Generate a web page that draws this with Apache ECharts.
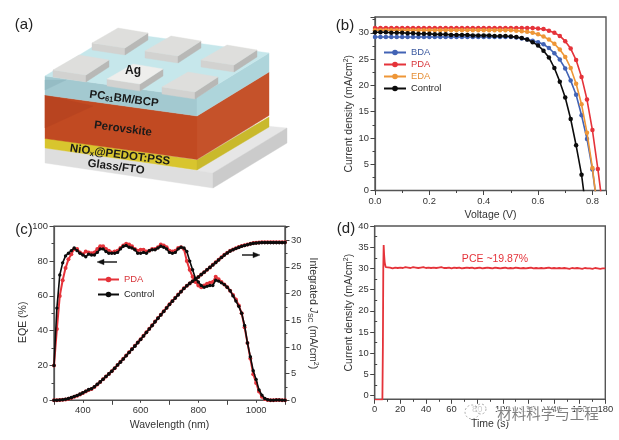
<!DOCTYPE html>
<html>
<head>
<meta charset="utf-8">
<style>html,body{margin:0;padding:0;background:#fff}#c{width:619px;height:440px;filter:blur(0.45px)}</style>
<script src="https://cdn.jsdelivr.net/npm/echarts@6/dist/echarts.min.js"></script>
</head>
<body>
<div id="c"></div>
<script>
// ---- panel (b) J-V, one value per 0.02 V from 0.00 V
const voltage = [0,.02,.04,.06,.08,.10,.12,.14,.16,.18,.20,.22,.24,.26,.28,.30,.32,.34,.36,.38,.40,.42,.44,.46,.48,.50,.52,.54,.56,.58,.60,.62,.64,.66,.68,.70,.72,.74,.76,.78,.80,.82,.84];
const bda = [29.2,29.2,29.2,29.2,29.2,29.2,29.2,29.2,29.2,29.2,29.2,29.2,29.2,29.2,29.2,29.2,29.2,29.2,29.2,29.2,29.2,29.2,29.2,29.2,29.2,29.2,29.1,28.9,28.7,28.5,28.2,27.8,27.1,26.1,24.9,23.2,20.9,18.2,14.3,9.8,4,-4];
const pda = [30.9,30.9,30.9,30.9,30.9,30.9,30.9,30.9,30.9,30.9,30.9,30.9,30.9,30.9,30.9,30.9,30.9,30.9,30.9,30.9,30.9,30.9,30.9,30.9,30.9,30.9,30.9,30.9,30.9,30.9,30.8,30.7,30.4,30,29.4,28.4,27,24.8,21.6,17.3,11.5,4.1,-4];
const eda = [30.5,30.5,30.5,30.5,30.5,30.5,30.5,30.5,30.5,30.5,30.5,30.5,30.5,30.5,30.5,30.5,30.5,30.5,30.5,30.5,30.5,30.5,30.5,30.5,30.5,30.5,30.4,30.3,30.2,30,29.7,29.3,28.7,27.9,26.8,25.4,23.3,20.3,16.4,11,4.3,-4];
const control = [30.1,30.1,30.1,30,30,30,29.9,29.9,29.8,29.8,29.8,29.7,29.7,29.7,29.6,29.6,29.6,29.6,29.5,29.5,29.5,29.5,29.4,29.4,29.4,29.3,29.2,29,28.7,28.2,27.6,26.6,25.3,23.3,20.7,17.7,13.6,8.6,3,-5];
// ---- panel (c) EQE and integrated Jsc, one value per 10 nm from 300 nm
const wavelength = [300,310,320,330,340,350,360,370,380,390,400,410,420,430,440,450,460,470,480,490,500,510,520,530,540,550,560,570,580,590,600,610,620,630,640,650,660,670,680,690,700,710,720,730,740,750,760,770,780,790,800,810,820,830,840,850,860,870,880,890,900,910,920,930,940,950,960,970,980,990,1000,1010,1020,1030,1040,1050,1060,1070,1080,1090,1100];
const eqeControl = [20,53,72,79,83,84.5,86,87.5,86,84.5,83.5,82.5,84,83.5,83.5,85,87,87,85.5,84.5,84.5,84.5,85,87,88.5,89,88,87.5,86.5,84.5,84.5,85,84.5,86,86.5,86.5,87.5,88.5,88,87,85,84.5,85,87,88,87.5,85.5,80,75,70,68,66,65,65.5,66,66,69,68.5,67.5,66.5,65,63,60,57,54,50,43,33,25,17,12,6,3,1,.3,0,0,.2,.2,0,0];
const eqePda = [20,41,60,69,76,81,84,87,87,85,84,85.5,85,84.5,85,87,88.5,88.5,87,86,85,85.5,86,87.5,89,90,89.5,88.5,87,86,86.5,86.5,85.5,86,87,87,88,89.5,89,88,86,85.5,86,87.5,88,87,80,75,71,68,66,65,66,67,67.5,68,71,69.5,68,66.5,65,63,60.5,58,54.5,50,42,33,24,15,10,5,2,.7,.2,0,0,.2,.2,0,0];
const jscControl = [0,.02,.05,.1,.2,.35,.5,.7,.9,1.15,1.4,1.7,2,2.15,2.55,3,3.45,3.95,4.45,4.95,5.45,6,6.6,7.15,7.75,8.35,8.95,9.55,10.15,10.8,11.4,12.05,12.7,13.35,14,14.7,15.35,16,16.65,17.3,17.95,18.55,19.15,19.75,20.35,20.95,21.45,21.9,22.3,22.7,23.1,23.55,24,24.45,24.9,25.35,25.8,26.3,26.75,27.2,27.6,27.95,28.2,28.45,28.65,28.85,29,29.15,29.3,29.4,29.45,29.5,29.55,29.55,29.55,29.55,29.55,29.55,29.55,29.55,29.55];
const jscPda = [0,.02,.04,.08,.16,.3,.45,.65,.85,1.1,1.35,1.65,1.95,2.1,2.5,2.95,3.45,3.95,4.45,4.95,5.45,6,6.6,7.2,7.8,8.4,9,9.6,10.2,10.85,11.45,12.1,12.75,13.4,14.05,14.75,15.4,16.05,16.7,17.35,18,18.6,19.2,19.8,20.4,21,21.45,21.9,22.3,22.7,23.1,23.55,24,24.45,24.9,25.4,25.85,26.35,26.8,27.25,27.65,28,28.25,28.5,28.7,28.9,29.05,29.2,29.35,29.45,29.5,29.55,29.6,29.6,29.6,29.6,29.6,29.6,29.6,29.6,29.6];
// ---- panel (d) stabilised output
const time = [0,2,4,6,6.4,6.7,7,7.4,7.8,8.2,8.6,9,10,12,14,16,18,20,22,24,26,28,30,32,34,36,38,40,42,44,46,48,50,52,54,56,58,60,62,64,66,68,70,72,74,76,78,80,82,84,86,88,90,92,94,96,98,100,102,104,106,108,110,112,114,116,118,120,122,124,126,128,130,132,134,136,138,140,142,144,146,148,150,152,154,156,158,160,162,164,166,168,170,172,174,176,178,180];
const current = [-1,-1,-1,-1,12,30,35.5,33,31.5,30.8,30.3,30,30.1,30.2,30,30.2,30.1,30.2,30.1,30.3,30.2,30.1,30.3,30.2,30.1,30.2,30.3,30.1,30.2,30.1,30.2,30.1,30.2,30.3,30.1,30.1,30.2,30,30.2,30.1,30.2,30,30.1,30.2,30.1,30.2,30,30.1,30.2,30,30.1,30.2,30.1,30,30.2,30.1,30,30.1,30.2,30,30.1,30,30.2,30.1,30,30.1,30,30.1,30.2,30,30.1,30,30.1,30,30.1,30.2,30,30.1,30,30.1,30,30.1,30,29.9,30.1,30,30.1,30,29.9,30.1,30,30,29.9,30.1,30,29.9,30,30];
const dYTicks = [0,5,10,15,20,25,30,35,40];
const dYMinor = [2.5,7.5,12.5,17.5,22.5,27.5,32.5,37.5];

const FONT = '"Liberation Sans", Arial, sans-serif';
const INK = '#333';
const RED = '#e5333a', BLUE = '#4263b5', ORANGE = '#ee9637', BLACK = '#0c0c0c';
const TICK_SIZE = 9.4, NAME_SIZE = 10.5;
const zip = (xs, ys) => ys.map((y, i) => [xs[i], y]);

function box(left, top, width, height) {
  return { left, top, width, height, show: true, borderColor: '#555', borderWidth: 1.4, backgroundColor: 'transparent' };
}
function nameStyle(padding) {
  return { color: INK, fontFamily: FONT, fontSize: NAME_SIZE, padding: padding || 0,
    rich: {
      t: { fontFamily: FONT, fontSize: NAME_SIZE, color: INK },
      i: { fontFamily: FONT, fontSize: NAME_SIZE, color: INK, fontStyle: 'italic' },
      s: { fontFamily: FONT, fontSize: 7, color: INK, padding: [0, 0, -5, 0] },
      u: { fontFamily: FONT, fontSize: 7, color: INK, padding: [-6, 0, 0, 0] }
    } };
}
function axis(extra) {
  return Object.assign({
    type: 'value', nameLocation: 'middle', splitLine: { show: false },
    axisLine: { show: true, onZero: false, lineStyle: { color: '#555', width: 1.2 } },
    axisTick: { show: true, length: 4.5, inside: false, lineStyle: { color: '#444', width: 1 } },
    minorTick: { show: true, splitNumber: 2, length: 2.5, lineStyle: { color: '#444', width: 1 } },
    minorSplitLine: { show: false },
    axisLabel: labelOpts({}),
    nameTextStyle: nameStyle()
  }, extra);
}
function labelOpts(extra) {
  return { color: INK, fontFamily: FONT, fontSize: TICK_SIZE, margin: 6, ...extra };
}
function line(name, data, color, xi, yi, size, width, z) {
  return { name, type: 'line', xAxisIndex: xi, yAxisIndex: yi, data, z, clip: true,
    symbol: 'circle', symbolSize: size, showSymbol: true, showAllSymbol: true, animation: false,
    itemStyle: { color }, lineStyle: { color, width } };
}

// ---- panel (a) illustration
const shapes = [];
function poly(points, fill) {
  shapes.push({ type: 'polygon', silent: true, shape: { points }, style: { fill, stroke: fill, lineWidth: .4 } });
}
function slab(x0, y0, x1, y1, x2, y2, h, front, side) {
  poly([[x0, y0], [x1, y1], [x1, y1 + h], [x0, y0 + h]], front);
  poly([[x1, y1], [x2, y2], [x2, y2 + h], [x1, y1 + h]], side);
}
poly([[45, 148], [117, 112], [287, 128], [213, 173]], '#e6e6e6');
slab(45, 148, 213, 173, 287, 128, 15, '#dedede', '#cbcbcb');
slab(45, 138, 197, 160, 269, 117, 10, '#d8c52e', '#c9b92c');
slab(45, 95, 197, 116, 269, 72, 43.5, '#c14a22', '#c5522a');
poly([[45, 95], [93, 106], [45, 128]], '#b84420');
slab(45, 76, 197, 97, 269, 53, 19, '#a3c9d0', '#aed5db');
poly([[45, 80], [45, 90], [66, 80]], '#95bcc4');
poly([[45, 76], [117, 32], [269, 53], [197, 97]], '#c6e7eb');
const padCorners = [[92, 43], [145, 51], [201, 60], [53, 70], [107, 79], [162, 87]];
padCorners.forEach(([x, y], i) => {
  poly([[x, y], [x + 33, y + 5], [x + 33, y + 12], [x, y + 7]], '#d2d2d0');
  poly([[x + 33, y + 5], [x + 56, y - 10], [x + 56, y - 3], [x + 33, y + 12]], '#b8b8b6');
  poly([[x, y], [x + 26, y - 15], [x + 56, y - 10], [x + 33, y + 5]], i === 4 ? '#eeeeec' : '#dededc');
});
function label(text, x, y, size, bold, rotation, rich) {
  shapes.push({ type: 'text', silent: true, x, y, rotation: rotation || 0, z: 20,
    style: { text, fill: '#1a1a1a', fontFamily: FONT, fontSize: size, fontWeight: bold ? 'bold' : 'normal', align: 'center', verticalAlign: 'middle', rich } });
}
const subRich = (size) => ({
  a: { fontFamily: FONT, fontWeight: 'bold', fontSize: size, fill: '#1a1a1a' },
  b: { fontFamily: FONT, fontWeight: 'bold', fontSize: size - 4, fill: '#1a1a1a', padding: [0, 0, -5, 0] }
});
label('Ag', 133, 71, 12, true);
label('{a|PC}{b|61}{a|BM/BCP}', 124, 99, 11.5, true, -0.13, subRich(11.5));
label('Perovskite', 123, 129, 11.5, true, -0.13);
label('{a|NiO}{b|x}{a|@PEDOT:PSS}', 120, 155, 11.5, true, -0.13, subRich(11.5));
label('Glass/FTO', 116, 167, 11.5, true, -0.13);

// panel letters
[['(a)', 24, 25], ['(b)', 345, 26], ['(c)', 24, 230], ['(d)', 346, 229]].forEach(([t, x, y]) => {
  shapes.push({ type: 'text', silent: true, x, y, z: 20, style: { text: t, fill: '#222', fontFamily: FONT, fontSize: 15, align: 'center', verticalAlign: 'middle' } });
});
// panel (c) direction arrows
function arrow(x0, x1, y) {
  const dir = x1 > x0 ? 1 : -1;
  shapes.push({ type: 'line', silent: true, z: 20, shape: { x1: x0, y1: y, x2: x1 - dir * 4, y2: y }, style: { stroke: '#111', lineWidth: 1.4 } });
  poly([[x1, y], [x1 - dir * 7, y - 2.8], [x1 - dir * 7, y + 2.8]], '#111');
  shapes[shapes.length - 1].z = 20;
}
arrow(117, 97, 262);
arrow(242, 260, 255);
// panel (d) annotation
shapes.push({ type: 'text', silent: true, x: 495, y: 259, z: 20, style: { text: 'PCE ~19.87%', fill: RED, fontFamily: FONT, fontSize: 10.5, align: 'center', verticalAlign: 'middle' } });
// watermark
shapes.push({ type: 'circle', silent: true, z: 30, shape: { cx: 472, cy: 412, r: 7 }, style: { fill: 'rgba(255,255,255,.75)', stroke: '#999', lineWidth: .8, lineDash: [2, 2] } });
shapes.push({ type: 'circle', silent: true, z: 30, shape: { cx: 481, cy: 409, r: 5 }, style: { fill: 'rgba(255,255,255,.75)', stroke: '#999', lineWidth: .8, lineDash: [2, 2] } });
shapes.push({ type: 'text', silent: true, x: 548, y: 413, z: 30, style: { text: '材料科学与工程', fill: '#808080', fontFamily: '"Noto Sans CJK SC"', fontSize: 14.5, align: 'center', verticalAlign: 'middle', stroke: 'rgba(255,255,255,.8)', lineWidth: 2 } });

const option = {
  animation: false,
  backgroundColor: '#fff',
  textStyle: { fontFamily: FONT },
  grid: [box(375, 17, 231, 173.5), box(54, 226.3, 231, 174), box(374.7, 226, 230.6, 173.3)],
  legend: [
    { left: 383, top: 48, orient: 'vertical', itemWidth: 22, itemHeight: 7, itemGap: 3, padding: 0,
      data: [
        { name: 'BDA', textStyle: { color: '#3c5aa0' } },
        { name: 'PDA', textStyle: { color: '#d8353a' } },
        { name: 'EDA', textStyle: { color: '#e68f36' } },
        { name: 'Control', textStyle: { color: '#222' } }
      ], textStyle: { fontFamily: FONT, fontSize: 9.4 } },
    { left: 97, top: 275, orient: 'vertical', itemWidth: 21, itemHeight: 7, itemGap: 6, padding: 0,
      data: [
        { name: 'PDA EQE', textStyle: { color: '#d8353a' } },
        { name: 'Control EQE', textStyle: { color: '#222' } }
      ], textStyle: { fontFamily: FONT, fontSize: 9.4 },
      formatter: (n) => n.replace(' EQE', '') }
  ],
  xAxis: [
    axis({ gridIndex: 0, min: 0, max: .85, interval: .2, name: 'Voltage (V)', nameGap: 19,
      axisLabel: labelOpts({ formatter: (v) => v.toFixed(1), showMaxLabel: false }) }),
    axis({ gridIndex: 1, min: 300, max: 1100, interval: 200, name: 'Wavelength (nm)', nameGap: 19,
      axisLabel: labelOpts({ customValues: [400, 600, 800, 1000], formatter: (v) => String(v) }) }),
    axis({ gridIndex: 2, min: 0, max: 180, interval: 20, name: 'Time (s)', nameGap: 19,
      axisLabel: labelOpts({ formatter: (v) => String(v) }) })
  ],
  yAxis: [
    axis({ gridIndex: 0, min: 0, max: 33, interval: 5, nameGap: 20,
      name: '{t|Current density (mA/cm}{u|2}{t|)}', nameTextStyle: nameStyle([0, 20, 0, 0]),
      axisLabel: labelOpts({ showMaxLabel: false }) }),
    axis({ gridIndex: 1, min: 0, max: 100, interval: 20, nameGap: 22, name: 'EQE (%)', nameTextStyle: nameStyle([0, 18, 0, 0]) }),
    axis({ gridIndex: 1, position: 'right', min: 0, max: 32.6, interval: 5, nameGap: 22, nameRotate: -90,
      name: '{t|Integrated }{i|J}{s|SC}{t| (mA/cm}{u|2}{t|)}',
      axisLabel: labelOpts({ showMaxLabel: false }) }),
    axis({ gridIndex: 2, min: -0.85, max: 40, nameGap: 18,
      name: '{t|Current density (mA/cm}{u|2}{t|)}',
      axisTick: { show: true, length: 4.5, customValues: dYTicks, lineStyle: { color: '#444' } },
      minorTick: { show: false },
      axisLabel: labelOpts({ customValues: dYTicks }) }),
    axis({ gridIndex: 2, min: -0.85, max: 40, axisLine: { show: false },
      axisTick: { show: true, length: 2.5, customValues: dYMinor, lineStyle: { color: '#444' } },
      minorTick: { show: false }, axisLabel: { show: false } })
  ],
  series: [
    line('BDA', zip(voltage, bda), BLUE, 0, 0, 4.5, 1.6, 2),
    line('PDA', zip(voltage, pda), RED, 0, 0, 4.5, 1.6, 3),
    line('EDA', zip(voltage, eda), ORANGE, 0, 0, 4.5, 1.6, 4),
    line('Control', zip(voltage, control), BLACK, 0, 0, 4.5, 1.6, 5),
    line('PDA EQE', zip(wavelength, eqePda), RED, 1, 1, 4, 2, 2),
    line('Control EQE', zip(wavelength, eqeControl), BLACK, 1, 1, 3.4, 1.6, 3),
    line('PDA Jsc', zip(wavelength, jscPda), RED, 1, 2, 4, 2, 2),
    line('Control Jsc', zip(wavelength, jscControl), BLACK, 1, 2, 3.6, 1.6, 3),
    { name: 'Stabilised', type: 'line', xAxisIndex: 2, yAxisIndex: 3, data: zip(time, current), showSymbol: false, symbol: 'none',
      clip: true, lineStyle: { color: RED, width: 1.8 }, itemStyle: { color: RED }, z: 3, animation: false }
  ],
  graphic: { elements: shapes }
};
const chart = echarts.init(document.getElementById('c'), null, { renderer: 'canvas', width: 619, height: 440 });
chart.setOption(option);
</script>
</body>
</html>
